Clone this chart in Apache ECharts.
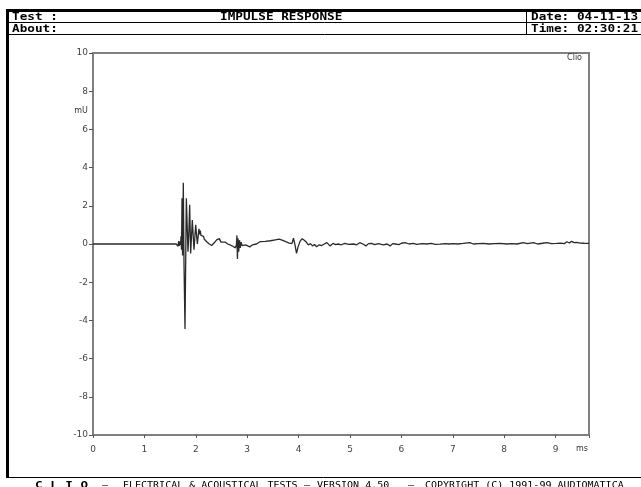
<!DOCTYPE html>
<html>
<head>
<meta charset="utf-8">
<script src="https://cdn.jsdelivr.net/npm/echarts@6/dist/echarts.min.js"></script>
<style>
html,body{margin:0;padding:0;background:#fff;}
#chart{width:641px;height:487px;}
</style>
</head>
<body>
<div id="chart"></div>
<script>
// Time axis (ms)
var timeMs = [0,0.5,1.0,1.3,1.55,1.62,1.641,1.655,1.667,1.68,1.693,1.705,1.712,1.722,1.732,1.742,1.757,1.770,1.790,1.816,1.848,1.865,1.881,1.900,1.932,1.965,1.998,2.03,2.062,2.075,2.088,2.100,2.115,2.134,2.15,2.166,2.19,2.212,2.24,2.263,2.285,2.309,2.33,2.354,2.38,2.406,2.43,2.457,2.49,2.52,2.57,2.62,2.67,2.72,2.77,2.79,2.80,2.81,2.82,2.835,2.85,2.865,2.88,2.90,2.93,2.97,3.01,3.05,3.1,3.18,3.25,3.35,3.45,3.55,3.62,3.68,3.75,3.82,3.87,3.90,3.93,3.96,3.99,4.03,4.07,4.11,4.15,4.19,4.23,4.27,4.31,4.35,4.40,4.45,4.50,4.55,4.61,4.67,4.72,4.77,4.83,4.90,4.97,5.07,5.13,5.19,5.25,5.31,5.36,5.42,5.48,5.55,5.65,5.72,5.78,5.83,5.88,5.95,6.00,6.07,6.15,6.23,6.30,6.40,6.49,6.58,6.66,6.75,6.85,6.93,7.01,7.10,7.20,7.33,7.40,7.50,7.59,7.70,7.80,7.92,8.05,8.15,8.25,8.37,8.45,8.57,8.65,8.75,8.83,8.92,9.02,9.10,9.17,9.22,9.27,9.31,9.36,9.41,9.48,9.55,9.65];
// Amplitude (mV)
var amplitudeMv = [0,0,0,0,0,0,-0.05,-0.12,0.15,-0.1,0.12,-0.05,0.4,-0.3,2.4,-0.6,3.2,-0.9,-4.45,2.4,-0.4,0.6,2.05,-0.5,1.25,-0.3,1.0,0.0,0.8,0.5,0.7,0.45,0.55,0.35,0.4,0.25,0.2,0.12,0.08,0.0,0.05,-0.08,-0.02,0.05,0.12,0.22,0.18,0.28,0.1,0.05,0.1,0.0,-0.05,-0.12,-0.2,-0.05,0.45,-0.78,0.3,-0.4,0.2,-0.2,0.1,-0.08,0.0,-0.05,-0.1,-0.15,-0.05,0.0,0.12,0.14,0.17,0.22,0.25,0.2,0.12,0.05,0.02,0.3,-0.05,-0.49,-0.15,0.15,0.28,0.2,0.1,-0.05,0.02,-0.1,-0.03,-0.14,-0.04,-0.08,0.0,0.07,-0.1,0.03,-0.03,0.0,-0.04,0.03,-0.02,0.0,-0.04,0.07,0.0,-0.1,0.02,0.03,-0.03,0.02,-0.05,0.0,-0.1,0.02,0.0,-0.03,0.04,0.07,0.0,0.03,-0.02,0.02,0.0,0.03,-0.02,-0.01,0.02,0.0,0.02,0.0,0.03,0.07,0.0,0.02,0.03,0.0,0.02,0.03,0.0,0.02,0.0,0.07,0.02,0.07,0.0,0.04,0.07,0.02,0.03,0.05,0.02,0.12,0.05,0.14,0.07,0.09,0.05,0.04,0.03];

var xTicks = [0,1,2,3,4,5,6,7,8,9];
var yTicks = [-10,-8,-6,-4,-2,0,2,4,6,8,10];
var xUnit = 'ms';
var yUnit = 'mU';
var headerTitle = 'IMPULSE RESPONSE';
var headerTest = 'Test :';
var headerAbout = 'About:';
var headerDate = 'Date: 04-11-13';
var headerTime = 'Time: 02:30:21';
var footerParts = ['C L I O', '\u2013', 'ELECTRICAL & ACOUSTICAL TESTS', '\u2013', 'VERSION 4.50', '\u2013', 'COPYRIGHT (C) 1991-99 AUDIOMATICA'];

var points = timeMs.map(function(t, i){ return [t, amplitudeMv[i]]; });

var chart = echarts.init(document.getElementById('chart'), null, {renderer:'canvas'});

var mono = '"DejaVu Sans Mono", monospace';
function hText(x, y, txt){
  return {type:'text', x:x, y:y, scaleX:1.27, z:10,
    style:{text:txt, font:'bold 10px ' + mono, fill:'#000', textAlign:'left', textVerticalAlign:'middle'}};
}
function fText(x, y, txt, bold){
  return {type:'text', x:x, y:y, scaleX:bold?1.4:1.25, z:10,
    style:{text:txt, font:(bold?'bold 9px ':'8px ') + mono, fill:'#000', textAlign:'left', textVerticalAlign:'middle'}};
}

var graphics = [
  // header frame
  {type:'rect', shape:{x:6, y:9, width:640, height:3}, style:{fill:'#000'}},
  {type:'rect', shape:{x:6, y:9, width:3, height:469}, style:{fill:'#000'}},
  {type:'line', shape:{x1:8, y1:22.5, x2:641, y2:22.5}, style:{stroke:'#000', lineWidth:1}},
  {type:'line', shape:{x1:8, y1:34.5, x2:641, y2:34.5}, style:{stroke:'#000', lineWidth:1}},
  {type:'line', shape:{x1:526.5, y1:11, x2:526.5, y2:35}, style:{stroke:'#000', lineWidth:1}},
  // footer line
  {type:'line', shape:{x1:6, y1:477.5, x2:641, y2:477.5}, style:{stroke:'#000', lineWidth:1}},
  hText(12, 17, headerTest),
  hText(12, 29, headerAbout),
  hText(220, 17, headerTitle),
  hText(531, 17, headerDate),
  hText(531, 29, headerTime),
  fText(35, 486, footerParts[0], true),
  fText(102, 486, footerParts[1]),
  fText(123, 486, footerParts[2]),
  fText(304, 486, footerParts[3]),
  fText(317, 486, footerParts[4]),
  fText(408, 486, footerParts[5]),
  fText(425, 486, footerParts[6]),
  // units and label
  {type:'text', x:81, y:111, style:{text:yUnit, font:'8px "DejaVu Sans"', fill:'#333', textAlign:'center', textVerticalAlign:'middle'}},
  {type:'text', x:582, y:449, style:{text:xUnit, font:'8px "DejaVu Sans"', fill:'#333', textAlign:'center', textVerticalAlign:'middle'}},
  {type:'text', x:582, y:58, style:{text:'Clio', font:'8px "DejaVu Sans"', fill:'#333', textAlign:'right', textVerticalAlign:'middle'}}
];

var option = {
  animation:false,
  backgroundColor:'#fff',
  grid:{left:93, right:52, top:53, bottom:52, show:true, borderColor:'#808080', borderWidth:2, backgroundColor:'transparent'},
  xAxis:{
    type:'value', min:0, max:9.65, interval:1,
    axisLine:{show:true, onZero:false, lineStyle:{color:'#808080', width:2}},
    axisTick:{show:true, length:3, lineStyle:{color:'#555'}},
    axisLabel:{margin:10, fontSize:9, fontFamily:'DejaVu Sans', color:'#444',
      customValues: xTicks},
    splitLine:{show:false}
  },
  yAxis:{
    type:'value', min:-10, max:10, interval:2,
    axisLine:{show:true, onZero:false, lineStyle:{color:'#808080', width:2}},
    axisTick:{show:true, length:4, lineStyle:{color:'#555'}},
    axisLabel:{margin:5, fontSize:9, fontFamily:'DejaVu Sans', color:'#444',
      customValues: yTicks},
    splitLine:{show:false}
  },
  series:[{
    type:'line', data:points, showSymbol:false, symbol:'none',
    lineStyle:{color:'#2a2a2a', width:1.3}, z:3
  }],
  graphic:graphics
};
chart.setOption(option);
</script>
</body>
</html>
